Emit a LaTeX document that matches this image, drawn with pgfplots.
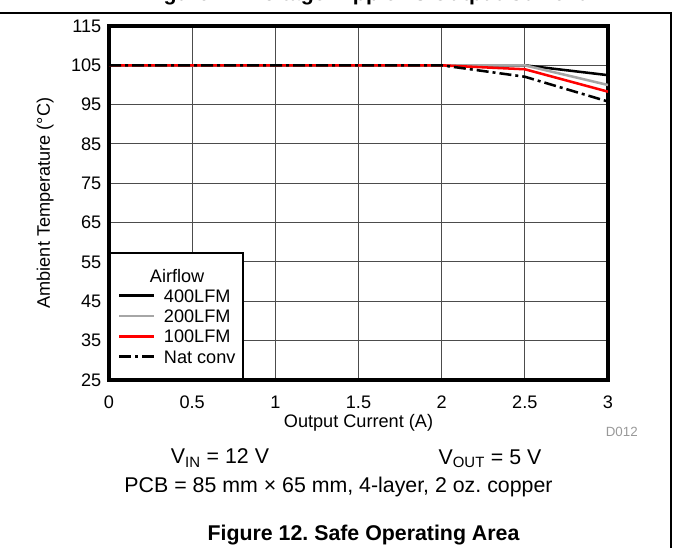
\documentclass[border=0pt]{standalone}
\usepackage{fontspec}
\setmainfont{Liberation Sans}
\usepackage{pgfplots}
\pgfplotsset{compat=1.18}
\frenchspacing
\begin{document}
\begin{tikzpicture}
\path[use as bounding box] (0,0) rectangle (504.75pt,-411pt);
\begin{scope}
\clip (0,0) rectangle (504.75pt,-9pt);
\node[anchor=base, font=\fontsize{16}{19}\selectfont\bfseries, inner sep=0pt] at (273.75pt,-0.6pt) {Figure 11. Voltage Ripple vs Output Current};
\end{scope}
\draw[line width=1.1pt] (0,-9.75pt) -- (503.25pt,-9.75pt) -- (503.25pt,-412pt);
\begin{axis}[
  at={(81.75pt,-285pt)}, anchor=south west,
  scale only axis, width=374.25pt, height=265.5pt,
  xmin=0, xmax=3, ymin=25, ymax=115,
  xtick={0,0.5,1,1.5,2,2.5,3},
  ytick={25,35,45,55,65,75,85,95,105,115},
  grid=major,
  major grid style={black!70, line width=0.75pt},
  axis line style={line width=2.4pt},
  major tick length=0pt,
  tick style={draw=none},
  /pgf/number format/assume math mode=true,
  tick label style={font=\fontsize{13.6}{15}\selectfont},
  xticklabel style={yshift=-8.25pt},
  yticklabel style={xshift=-2.25pt},
  xlabel={Output Current (A)},
  ylabel={Ambient Temperature (°C)},
  every axis y label/.style={at={(axis description cs:-0.128,0.5)}, rotate=90, anchor=center, font=\fontsize{13.6}{15}\selectfont},
  every axis x label/.style={at={(axis description cs:0.5,0)}, anchor=center, yshift=-32.25pt, font=\fontsize{13.6}{15}\selectfont},
  legend style={at={(axis description cs:0,0)}, anchor=south west, draw=black, line width=1.5pt, fill=white,
    inner xsep=6pt, inner ysep=9.25pt, row sep=0pt,
    font=\fontsize{13.6}{15}\selectfont,
    nodes={inner xsep=0pt, inner ysep=2.65pt, text height=9.9pt, text depth=0pt}},
  legend cell align=left,
  legend image code/.code={\draw[#1] (0pt,0pt) -- (26pt,0pt); \path[draw=none] (0pt,0pt) -- (33.5pt,0pt);},
]
\addlegendimage{empty legend}
\addlegendentry{\hspace*{-10.5pt}Airflow}
\addplot[black, line width=1.9pt] coordinates {(0,105) (2,105) (2.5,105) (3,102.5)};
\addlegendentry{400LFM}
\addplot[color=black!35, line width=1.9pt] coordinates {(0,105) (2,105) (2.5,105) (3,100)};
\addlegendentry{200LFM}
\addplot[red, line width=1.9pt] coordinates {(0,105) (2,105) (2.5,104) (3,98.3)};
\addlegendentry{100LFM}
\addplot[black, line width=1.9pt, dash pattern=on 9pt off 3pt on 2.25pt off 3pt] coordinates {(0,105) (2,105) (2.5,102.1) (3,95.8)};
\addlegendentry{Nat conv}
\end{axis}
\begin{scope}[x=0.75pt,y=-0.75pt]
\node[font=\fontsize{10}{12}\selectfont, text=black!40, anchor=base east, inner sep=0pt] at (638,436.8) {D012};
\node[font=\fontsize{16}{19}\selectfont, anchor=base, inner sep=0pt] at (220,463.7) {V\textsubscript{IN} = 12 V};
\node[font=\fontsize{16}{19}\selectfont, anchor=base, inner sep=0pt] at (490,464.5) {V\textsubscript{OUT} = 5 V};
\node[font=\fontsize{16}{19}\selectfont, anchor=base, inner sep=0pt] at (338.5,492.7) {PCB = 85 mm × 65 mm, 4-layer, 2 oz. copper};
\node[font=\fontsize{16}{19}\selectfont\bfseries, anchor=base, inner sep=0pt] at (363.5,540.7) {Figure 12. Safe Operating Area};
\end{scope}
\end{tikzpicture}
\end{document}
